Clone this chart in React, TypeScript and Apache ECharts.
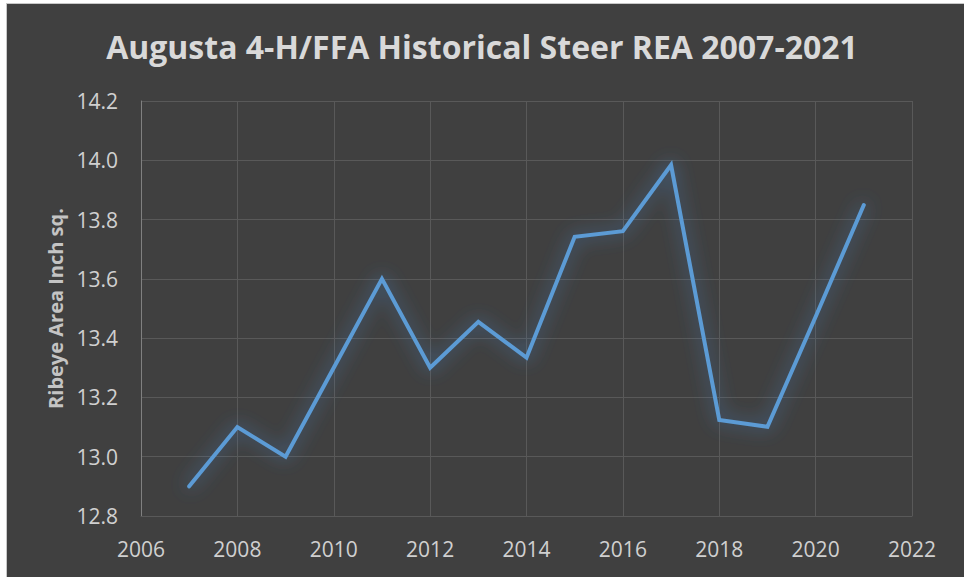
import React, { useEffect, useRef } from "react";
import * as echarts from "echarts";

const years = [2007, 2008, 2009, 2010, 2011, 2012, 2013, 2014, 2015, 2016, 2017, 2018, 2019, 2020, 2021];
const reaValues = [12.9, 13.1, 13.0, 13.3, 13.6, 13.3, 13.455, 13.334, 13.742, 13.761, 13.984, 13.124, 13.101, 13.472, 13.849];
const titleText = "Augusta 4-H/FFA Historical Steer REA 2007-2021";
const yAxisTitle = "Ribeye Area Inch sq.";

export default function App() {
  const ref = useRef<HTMLDivElement>(null);
  useEffect(() => {
    if (!ref.current) return;
    const chart = echarts.init(ref.current, undefined, { renderer: "svg" });
    const font = "'Open Sans', sans-serif";
    chart.setOption({
      animation: false,
      backgroundColor: "transparent",
      title: {
        text: titleText,
        left: "center",
        top: 25,
        textStyle: { color: "#d9d9d9", fontSize: 32, fontWeight: "bold", fontFamily: font },
      },
      grid: { left: 141, right: 52, top: 101, bottom: 61, containLabel: false },
      xAxis: {
        type: "value",
        min: 2006,
        max: 2022,
        interval: 2,
        axisLine: { show: true, lineStyle: { color: "#595959", width: 1 } },
        axisTick: { show: false },
        splitLine: { show: true, lineStyle: { color: "#595959", width: 1 } },
        axisLabel: {
          color: "#d0d0d0",
          fontSize: 21,
          fontFamily: font,
          margin: 22,
          formatter: (v: number) => String(v),
        },
      },
      yAxis: {
        type: "value",
        min: 12.8,
        max: 14.2,
        interval: 0.2,
        name: yAxisTitle,
        nameLocation: "middle",
        nameGap: 76,
        nameTextStyle: { color: "#c4c4c4", fontSize: 20, fontWeight: "bold", fontFamily: font },
        axisLine: { show: true, lineStyle: { color: "#808080", width: 1 } },
        axisTick: { show: false },
        splitLine: { show: true, lineStyle: { color: "#595959", width: 1 } },
        axisLabel: {
          color: "#d0d0d0",
          fontSize: 21,
          fontFamily: font,
          margin: 23,
          formatter: (v: number) => v.toFixed(1),
        },
      },
      series: [
        {
          type: "line",
          data: years.map((y, i) => [y, reaValues[i]]),
          showSymbol: false,
          symbol: "none",
          lineStyle: {
            color: "#5b9bd5",
            width: 4,
            shadowColor: "rgba(70,130,195,0.8)",
            shadowBlur: 18,
            cap: "round",
            join: "miter",
          },
        },
      ],
    });
    return () => chart.dispose();
  }, []);
  return (
    <div style={{ position: "fixed", left: 0, top: 0, width: 964, height: 577, background: "#ffffff", overflow: "hidden" }}>
      <div
        style={{
          position: "absolute",
          left: 6,
          top: 3,
          width: 970,
          height: 590,
          background: "#404040",
          borderLeft: "1px solid #c8c8c8",
          borderTop: "1px solid #c8c8c8",
        }}
      />
      <div ref={ref} style={{ position: "absolute", left: 0, top: 0, width: 964, height: 577 }} />
    </div>
  );
}
